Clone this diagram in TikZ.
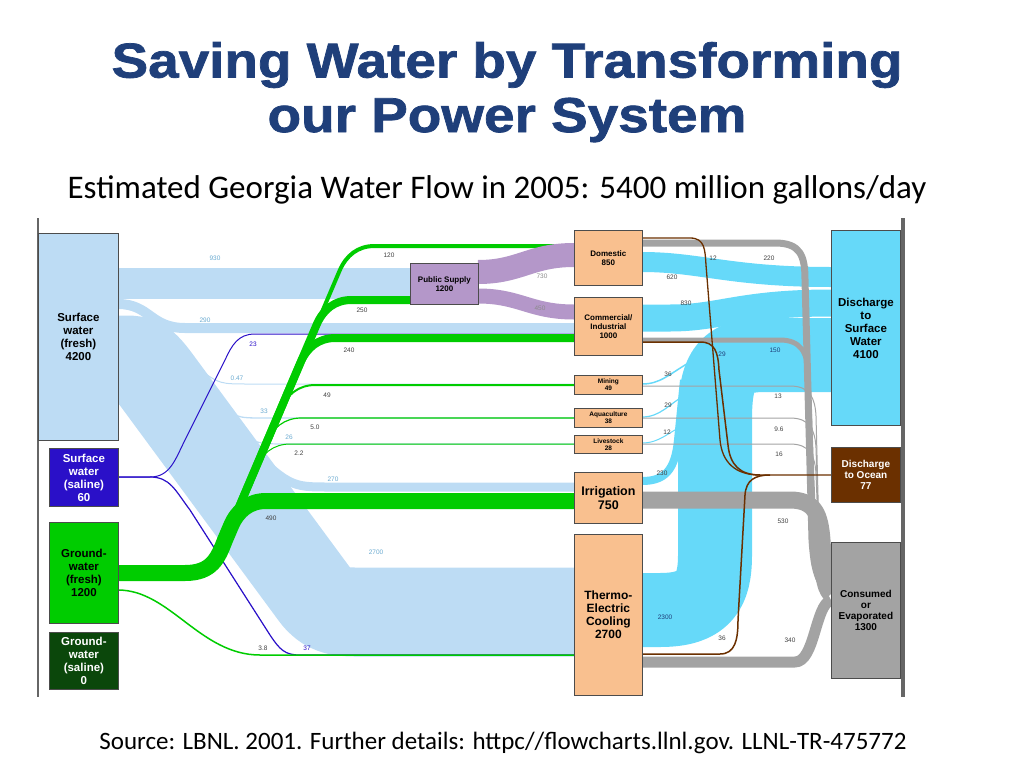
\documentclass[tikz,border=0pt]{standalone}
\usepackage{fontspec}
\setmainfont{Carlito}
\newfontfamily\hv{Liberation Sans}
\newfontfamily\ttlf[FakeStretch=1.12,FakeBold=1.5]{Liberation Sans Bold}
\definecolor{lb}{HTML}{BDDCF4}
\definecolor{gr}{HTML}{00CC00}
\definecolor{sal}{HTML}{2A10C8}
\definecolor{dg}{HTML}{0B470B}
\definecolor{pur}{HTML}{B497C9}
\definecolor{org}{HTML}{F9C08F}
\definecolor{cy}{HTML}{66D9F9}
\definecolor{brn}{HTML}{6B3000}
\definecolor{gy}{HTML}{A3A3A3}
\definecolor{ttl}{HTML}{1F3F7A}
\definecolor{lbl}{HTML}{6AAAD0}
\tikzset{
 box/.style={draw=black!70,line width=0.8pt,anchor=north west,align=center,inner sep=0pt,font=\hv\bfseries\fontsize{11.5}{13}\selectfont},
 fl/.style={line join=round},
 num/.style={font=\hv\fontsize{6.5}{7}\selectfont,text=black!75,inner sep=0pt},
 lnum/.style={num,text=lbl},
}
\begin{document}
\begin{tikzpicture}[x=1pt,y=-1pt]
\useasboundingbox (0,0) rectangle (1024,768);
% titles
\node[font=\ttlf\fontsize{49}{52}\selectfont,text=ttl,align=center] (t1) at (507,65) {Saving Water by Transforming};
\node[font=\ttlf\fontsize{49}{52}\selectfont,text=ttl,align=center] (t2) at (507,120) {our Power System};
\node[font=\fontsize{33}{36}\selectfont] (st) at (497,190) {Estimated Georgia Water Flow in 2005: 5400 million gallons/day};
\node[font=\fontsize{25}{28}\selectfont] (src) at (503,743) {Source: LBNL. 2001. Further details: httpc//flowcharts.llnl.gov. LLNL-TR-475772};
% frame lines
\draw[black!60,line width=2pt] (38,218) -- (38,697);
\draw[black!60,line width=4pt] (903,218) -- (903,697);
% light blue flows
\draw[fl,lb,line width=31pt] (118,283) -- (410,283);
\draw[fl,lb,line width=10pt] (118,304) .. controls (150,304) and (150,328) .. (185,328) -- (574,328);
\draw[fl,lb,line width=89pt] (118,360) -- (128,360) .. controls (140,360) and (145,365) .. (155,378) -- (315,595) .. controls (325,608) and (335,612) .. (355,612) -- (574,612);
\draw[fl,lb,line width=9pt] (240,440) .. controls (290,487) .. (330,487) -- (574,487);
\draw[fl,lb,line width=1pt] (200,370) .. controls (220,384) .. (250,384) -- (574,384);
\draw[fl,lb,line width=1.3pt] (215,398) .. controls (235,418) .. (265,418) -- (574,418);
\draw[fl,lb,line width=1.2pt] (230,425) .. controls (255,444) .. (290,444) -- (574,444);
% saline
\draw[fl,sal,line width=1pt] (118,477) -- (150,477) .. controls (170,477) and (175,460) .. (185,440) -- (225,360) .. controls (232,345) and (238,334) .. (255,334) -- (574,334);
\draw[fl,sal,line width=1.2pt] (118,477) -- (150,477) .. controls (170,477) and (175,490) .. (190,510) -- (270,635) .. controls (280,650) and (285,655) .. (300,655) -- (574,655);
% green
\foreach \yt/\w/\ex in {246/4/574,300/8/410,338/8/574,385/2/574,418/1.2/574,444/1/574,501/16/574}{
 \pgfmathsetmacro\xa{225+(515-\yt)*0.4255}
 \pgfmathsetmacro\xb{\xa+35}
 \pgfmathsetmacro\ya{\yt+25}
 \draw[fl,gr,line width=\w pt] (118,573) -- (185,573) .. controls (212,573) and (218,558) .. (225,540) -- (\xa,\ya) to[out=67,in=180] (\xb,\yt) -- (\ex,\yt);
}
\draw[fl,gr,line width=1.5pt] (118,590) .. controls (170,590) and (200,655) .. (260,655) -- (574,655);
% purple
\draw[fl,pur,line width=24pt] (478,272) .. controls (520,272) and (530,255) .. (574,255);
\draw[fl,pur,line width=15pt] (478,296) .. controls (520,296) and (530,312) .. (574,312);
% cyan
\draw[fl,cy,line width=74pt] (642,610) -- (660,610) .. controls (705,610) and (715,590) .. (715,555) -- (715,420) .. controls (715,370) and (725,355) .. (765,355) -- (831,355);
\draw[fl,cy,line width=20pt] (642,262) .. controls (700,262) and (730,277) .. (831,277);
\draw[fl,cy,line width=27pt] (642,318) -- (670,318) .. controls (720,318) and (740,303) .. (831,303);
\draw[fl,cy,line width=8pt] (642,481) .. controls (665,481) and (675,470) .. (678,440) -- (684,380);
\draw[fl,cy,line width=1.5pt] (642,384) .. controls (660,384) and (668,375) .. (690,362);
\draw[fl,cy,line width=1.2pt] (642,417) .. controls (660,417) and (668,405) .. (685,395);
\draw[fl,cy,line width=1pt] (642,443) .. controls (660,443) and (668,432) .. (685,425);
% gray
\draw[fl,gy,line width=7pt] (642,243) -- (775,243) .. controls (800,243) and (805,255) .. (805,280) -- (812,540) .. controls (814,570) and (818,585) .. (831,590);
\draw[fl,gy,line width=5pt] (642,340) -- (780,340) .. controls (800,340) and (808,352) .. (808,375) -- (815,560) .. controls (816,580) and (820,588) .. (831,590);
\foreach \yy in {386,418,444}{
 \pgfmathsetmacro\yc{\yy+12}
 \pgfmathsetmacro\yd{\yy+30}
 \draw[fl,gy,line width=1pt] (642,\yy) -- (790,\yy) .. controls (810,\yy) and (815,\yc) .. (816,\yd) -- (820,575) .. controls (821,585) and (825,590) .. (831,592);
}
\draw[fl,gy,line width=17pt] (642,500) -- (790,500) .. controls (815,500) and (820,515) .. (822,540) -- (824,575) .. controls (825,585) and (828,592) .. (831,594);
\draw[fl,gy,line width=11pt] (642,662) -- (795,662) .. controls (815,662) and (815,605) .. (831,600);
% brown
\draw[fl,brn,line width=1.3pt] (642,238) -- (690,238) .. controls (705,238) and (705,250) .. (706,265) -- (720,440) .. controls (722,462) and (735,475) .. (760,475) -- (831,475);
\draw[fl,brn,line width=1.5pt] (642,342) -- (700,342) .. controls (715,342) and (718,352) .. (719,370) -- (728,445) .. controls (730,465) and (740,475) .. (760,475);
\draw[fl,brn,line width=1.5pt] (642,654) -- (720,654) .. controls (735,654) and (738,640) .. (738,620) -- (745,495) .. controls (746,480) and (755,475) .. (770,475);
% boxes
\node[box,fill=lb,minimum width=80pt,minimum height=207pt] (sw) at (38,233) {Surface\\water\\(fresh)\\4200};
\node[box,fill=sal,text=white,minimum width=69pt,minimum height=58pt] (ss) at (49,448) {Surface\\water\\(saline)\\60};
\node[box,fill=gr,minimum width=69pt,minimum height=101pt] (gw) at (49,522) {Ground-\\water\\(fresh)\\1200};
\node[box,fill=dg,text=white,minimum width=69pt,minimum height=57pt] (gs) at (49,632) {Ground-\\water\\(saline)\\0};
\node[box,fill=pur,minimum width=68pt,minimum height=41pt,font=\hv\bfseries\fontsize{8}{9}\selectfont] (ps) at (410,263) {Public Supply\\1200};
\tikzset{sbox/.style={box,fill=org,minimum width=68pt,font=\hv\bfseries\fontsize{8}{9}\selectfont}}
\node[sbox,minimum height=55pt] (dom) at (574,230) {Domestic\\850};
\node[sbox,minimum height=58pt] (com) at (574,297) {Commercial/\\Industrial\\1000};
\node[sbox,minimum height=19pt,font=\hv\bfseries\fontsize{6.5}{7}\selectfont] (min) at (574,375) {Mining\\49};
\node[sbox,minimum height=19pt,font=\hv\bfseries\fontsize{6.5}{7}\selectfont] (aq) at (574,408) {Aquaculture\\38};
\node[sbox,minimum height=18pt,font=\hv\bfseries\fontsize{6.5}{7}\selectfont] (ls) at (574,435) {Livestock\\28};
\node[sbox,minimum height=51pt,font=\hv\bfseries\fontsize{12.5}{14}\selectfont] (irr) at (574,472) {Irrigation\\750};
\node[sbox,minimum height=161pt,font=\hv\bfseries\fontsize{12}{13}\selectfont] (th) at (574,534) {Thermo-\\Electric\\Cooling\\2700};
\node[box,fill=cy,minimum width=69pt,minimum height=195pt] (ds) at (831,230) {Discharge\\to\\Surface\\Water\\4100};
\node[box,fill=brn,text=white,minimum width=69pt,minimum height=55pt,font=\hv\bfseries\fontsize{10}{11}\selectfont] (do) at (831,447) {Discharge\\to Ocean\\77};
\node[box,fill=gy,minimum width=69pt,minimum height=136pt,font=\hv\bfseries\fontsize{10}{11}\selectfont] (ce) at (831,542) {Consumed\\or\\Evaporated\\1300};
% labels
\node[lnum] (l1) at (215,258) {930};
\node[lnum] (l2) at (205,320) {290};
\node[num,text=sal] (l3) at (253,344) {23};
\node[lnum] (l4) at (237,378) {0.47};
\node[lnum] (l5) at (264,411) {33};
\node[lnum] (l6) at (289,437) {26};
\node[lnum] (l7) at (333,479) {270};
\node[lnum] (l8) at (376,552) {2700};
\node[num] (l9) at (263,648) {3.8};
\node[num,text=sal] (l10) at (307,648) {37};
\node[num] (l11) at (389,255) {120};
\node[num] (l12) at (362,310) {250};
\node[num] (l13) at (349,350) {240};
\node[num] (l14) at (327,395) {49};
\node[num] (l15) at (315,427) {5.0};
\node[num] (l16) at (299,453) {2.2};
\node[num] (l17) at (271,518) {490};
\node[lnum,text=black!45] (l18) at (542,276) {730};
\node[lnum,text=black!45] (l19) at (540,308) {450};
\node[num] (r1) at (713,258) {12};
\node[num] (r2) at (769,258) {220};
\node[num] (r3) at (672,277) {620};
\node[num] (r4) at (686,303) {830};
\node[num,text=ttl] (r5) at (722,354) {29};
\node[num,text=ttl] (r6) at (775,350) {150};
\node[num] (r7) at (668,374) {36};
\node[num] (r8) at (778,396) {13};
\node[num] (r9) at (668,405) {29};
\node[num] (r10) at (779,429) {9.6};
\node[num] (r11) at (667,432) {12};
\node[num] (r12) at (779,454) {16};
\node[num] (r13) at (662,473) {230};
\node[num] (r14) at (783,521) {530};
\node[num,text=ttl] (r15) at (665,617) {2300};
\node[num] (r16) at (722,638) {36};
\node[num] (r17) at (790,640) {340};
\end{tikzpicture}
\end{document}
